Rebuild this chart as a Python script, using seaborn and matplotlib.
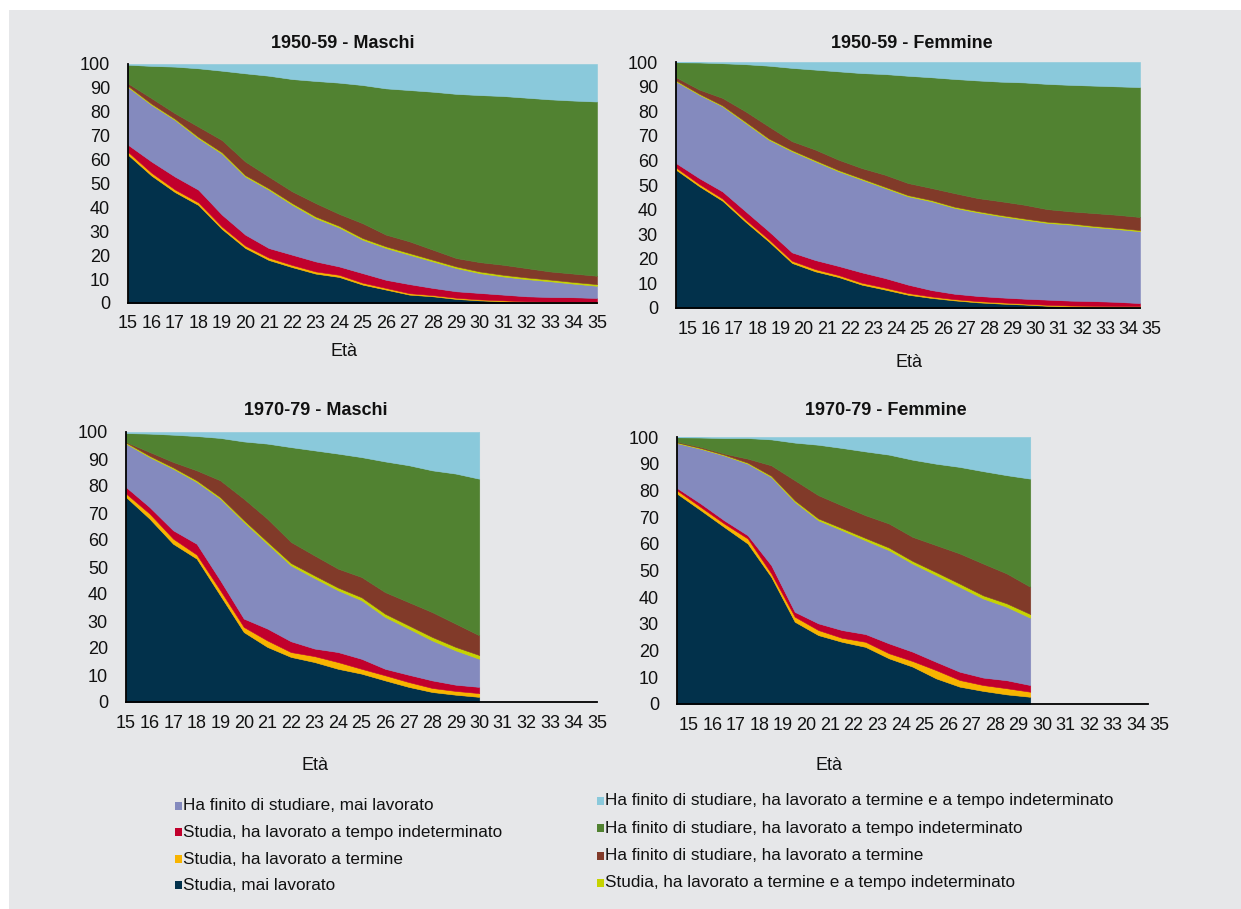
import pandas as pd
import seaborn as sns
import matplotlib.pyplot as plt
from matplotlib.patches import Rectangle
from matplotlib.transforms import ScaledTranslation

sns.set_theme(style="white")
plt.rcParams['font.family'] = ['Liberation Sans', 'DejaVu Sans']

# serie nell'ordine di impilamento (dal basso verso l'alto)
serie = [
    "Studia, mai lavorato",
    "Studia, ha lavorato a termine",
    "Studia, ha lavorato a tempo indeterminato",
    "Ha finito di studiare, mai lavorato",
    "Studia, ha lavorato a termine e a tempo indeterminato",
    "Ha finito di studiare, ha lavorato a termine",
    "Ha finito di studiare, ha lavorato a tempo indeterminato",
    "Ha finito di studiare, ha lavorato a termine e a tempo indeterminato",
]
colori = ["#02314b", "#f8b400", "#c1002c", "#848abe",
          "#c6d300", "#813a29", "#518231", "#8ac9db"]

eta_50 = list(range(15, 36))
eta_70 = list(range(15, 31))
tick_eta = list(range(15, 36))

# 1950-59 - Maschi
m50_studia_mai = [62, 53.3, 46.4, 41, 31, 23, 18, 15, 12.3, 10.9, 7.7, 5.6, 3.5, 2.8, 1.7, 1.1, 0.7, 0.4, 0.3, 0.2, 0.2]
m50_studia_term = [1.2, 1.2, 1.1, 1.1, 1.0, 1.0, 1.0, 0.9, 0.9, 0.9, 0.8, 0.7, 0.6, 0.5, 0.5, 0.4, 0.4, 0.3, 0.3, 0.3, 0.3]
m50_studia_ind = [3.0, 4.7, 5.4, 5.3, 5.0, 4.6, 4.0, 4.3, 4.2, 3.5, 4.0, 3.4, 3.8, 3.0, 2.7, 2.7, 2.4, 2.1, 1.9, 1.9, 1.6]
m50_finito_mai = [24.1, 23.7, 23.7, 21.5, 25.5, 24.3, 24.4, 20.9, 18.1, 16.3, 14.0, 13.3, 12.3, 11.1, 9.7, 8.3, 7.6, 7.2, 6.6, 5.7, 5.1]
m50_studia_entr = [0.5, 0.5, 0.5, 0.6, 0.6, 0.6, 0.6, 0.7, 0.7, 0.7, 0.7, 0.7, 0.7, 0.7, 0.7, 0.7, 0.7, 0.7, 0.7, 0.7, 0.7]
m50_finito_term = [1.1, 2.3, 2.3, 4.3, 5.1, 5.7, 4.9, 4.9, 5.6, 5.0, 6.2, 4.9, 4.9, 4.2, 3.5, 3.9, 4.2, 3.9, 3.4, 3.5, 3.5]
m50_finito_ind = [7.8, 13.5, 19.5, 24.4, 29.0, 36.9, 42.2, 47.0, 51.1, 54.9, 57.8, 61.2, 63.3, 66.1, 68.7, 69.9, 70.6, 71.3, 72.0, 72.4, 72.9]
m50_finito_entr = [0.3, 0.8, 1.1, 1.8, 2.8, 3.9, 4.9, 6.3, 7.1, 7.8, 8.8, 10.2, 10.9, 11.6, 12.5, 13.0, 13.4, 14.1, 14.8, 15.3, 15.7]

# 1950-59 - Femmine
f50_studia_mai = [56.2, 49.5, 43.6, 35, 27, 18.3, 14.9, 12.6, 9.5, 7.5, 5.4, 4.1, 3.1, 2.3, 1.8, 1.4, 0.9, 0.6, 0.5, 0.4, 0.4]
f50_studia_term = [0.9, 0.9, 0.9, 0.9, 0.9, 0.9, 0.9, 0.8, 0.8, 0.8, 0.7, 0.6, 0.5, 0.5, 0.5, 0.4, 0.4, 0.4, 0.4, 0.4, 0.4]
f50_studia_ind = [1.8, 2.4, 2.9, 3.4, 3.3, 3.4, 3.7, 3.7, 4.2, 3.9, 3.4, 2.6, 2.2, 2.1, 2.0, 2.0, 2.1, 2.0, 1.9, 1.7, 1.2]
f50_finito_mai = [33.2, 33.9, 34.6, 35.9, 37.2, 41.1, 40.1, 38.5, 37.7, 36.6, 35.9, 36.1, 34.9, 34.0, 33.0, 32.1, 31.2, 30.9, 30.1, 29.6, 29.2]
f50_studia_entr = [0.4, 0.4, 0.4, 0.5, 0.5, 0.5, 0.5, 0.5, 0.5, 0.5, 0.5, 0.5, 0.5, 0.5, 0.5, 0.5, 0.5, 0.5, 0.5, 0.5, 0.5]
f50_finito_term = [1.3, 1.7, 3.0, 4.2, 4.9, 3.6, 4.3, 4.2, 4.2, 4.9, 4.9, 4.9, 5.5, 5.3, 5.6, 5.6, 5.1, 4.9, 5.2, 5.3, 5.3]
f50_finito_ind = [6.1, 11.0, 14.1, 19.2, 24.7, 29.8, 32.5, 35.9, 38.6, 40.9, 43.6, 45.0, 46.4, 47.8, 48.6, 49.7, 50.9, 51.4, 51.8, 52.2, 52.8]
f50_finito_entr = [0.1, 0.2, 0.5, 0.9, 1.5, 2.4, 3.1, 3.8, 4.5, 4.9, 5.6, 6.2, 6.9, 7.5, 8.0, 8.3, 8.9, 9.3, 9.6, 9.9, 10.2]

# 1970-79 - Maschi
m70_studia_mai = [75.9, 67.9, 58.6, 53.1, 39.5, 25.9, 20.4, 16.7, 14.8, 12.3, 10.5, 8.0, 5.6, 3.7, 2.7, 1.9]
m70_studia_term = [1.3, 1.9, 1.9, 1.5, 1.9, 1.9, 2.4, 1.8, 2.2, 2.5, 1.8, 1.9, 1.8, 1.5, 1.4, 1.4]
m70_studia_ind = [2.4, 2.4, 3.1, 4.0, 3.7, 3.1, 4.4, 4.0, 2.8, 3.7, 3.7, 2.4, 2.7, 2.8, 2.3, 2.3]
m70_finito_mai = [16.1, 18.5, 22.8, 22.9, 30.2, 35.8, 31.4, 28.1, 26.1, 22.9, 21.7, 19.2, 17.1, 14.8, 12.7, 10.4]
m70_studia_entr = [0.4, 0.5, 0.5, 0.6, 0.6, 0.7, 0.8, 0.9, 1.0, 1.0, 1.1, 1.2, 1.2, 1.3, 1.3, 1.4]
m70_finito_term = [0.2, 1.4, 2.0, 3.7, 6.2, 7.9, 8.5, 7.8, 7.4, 7.0, 7.5, 8.0, 8.6, 9.2, 8.6, 7.3]
m70_finito_ind = [3.3, 6.8, 10.1, 12.7, 15.7, 21.2, 27.8, 35.1, 38.9, 42.6, 44.4, 48.4, 50.7, 52.5, 55.6, 58.0]
m70_finito_entr = [0.4, 0.6, 1.0, 1.5, 2.2, 3.5, 4.3, 5.6, 6.8, 8.0, 9.3, 10.9, 12.3, 14.2, 15.4, 17.3]

# 1970-79 - Femmine
f70_studia_mai = [78.8, 72.6, 66.3, 60.1, 47.6, 30.8, 25.8, 23.3, 21.4, 17.1, 14.0, 9.6, 6.5, 4.9, 3.6, 2.7]
f70_studia_term = [1.2, 1.2, 1.3, 1.9, 1.3, 1.9, 1.9, 1.5, 1.9, 1.9, 2.1, 3.1, 2.5, 2.2, 2.3, 1.9]
f70_studia_ind = [0.9, 1.3, 1.2, 1.2, 3.1, 1.8, 2.5, 2.9, 2.9, 3.7, 3.5, 3.1, 3.1, 2.8, 3.0, 2.5]
f70_finito_mai = [16.8, 20.5, 24.3, 26.8, 33.0, 41.2, 38.6, 37.4, 35.1, 34.9, 33.0, 32.5, 31.8, 29.6, 27.5, 25.2]
f70_studia_entr = [0.3, 0.3, 0.3, 0.4, 0.5, 0.6, 0.7, 0.8, 0.9, 1.0, 1.0, 1.1, 1.2, 1.2, 1.3, 1.4]
f70_finito_term = [0.2, 0.4, 0.4, 1.5, 3.9, 7.5, 8.7, 8.5, 8.5, 9.0, 9.0, 10.1, 11.3, 11.9, 11.2, 10.2]
f70_finito_ind = [1.7, 3.5, 5.8, 7.7, 9.7, 14.1, 18.9, 21.5, 23.9, 25.8, 28.9, 30.5, 32.4, 34.6, 36.8, 40.5]
f70_finito_entr = [0.2, 0.2, 0.4, 0.4, 0.9, 2.1, 2.9, 4.1, 5.4, 6.6, 8.5, 10.0, 11.2, 12.8, 14.3, 15.6]


def tabella(eta, *valori):
    df = pd.DataFrame(dict(zip(serie, valori)))
    df.index = eta
    return df


pannelli = [
    # titolo, dati, [sx, alto, dx, basso] in pixel, etichette spostate, pos. titolo, pos. "Età"
    ("1950-59 - Maschi",
     tabella(eta_50, m50_studia_mai, m50_studia_term, m50_studia_ind, m50_finito_mai,
             m50_studia_entr, m50_finito_term, m50_finito_ind, m50_finito_entr),
     (128, 64, 597, 303), False, (343, 43), (344, 352)),
    ("1950-59 - Femmine",
     tabella(eta_50, f50_studia_mai, f50_studia_term, f50_studia_ind, f50_finito_mai,
             f50_studia_entr, f50_finito_term, f50_finito_ind, f50_finito_entr),
     (676, 62, 1140, 308), True, (912, 43), (909, 362)),
    ("1970-79 - Maschi",
     tabella(eta_70, m70_studia_mai, m70_studia_term, m70_studia_ind, m70_finito_mai,
             m70_studia_entr, m70_finito_term, m70_finito_ind, m70_finito_entr),
     (126, 432, 597, 702), False, (316, 410), (315, 765)),
    ("1970-79 - Femmine",
     tabella(eta_70, f70_studia_mai, f70_studia_term, f70_studia_ind, f70_finito_mai,
             f70_studia_entr, f70_finito_term, f70_finito_ind, f70_finito_entr),
     (677, 437, 1148, 704), True, (886, 410), (829, 765)),
]

W, H = 1241, 909
fig = plt.figure(figsize=(W / 100, H / 100), dpi=100, facecolor="white")
# sfondo grigio con bordino bianco in alto e a sinistra
fig.add_artist(Rectangle((9 / W, 0), 1, 1 - 10 / H, transform=fig.transFigure,
                         facecolor="#e6e7e9", edgecolor="none", zorder=-10))

for titolo, df, (x0, y0, x1, y1), sposta, pt, pe in pannelli:
    ax = fig.add_axes([x0 / W, 1 - y1 / H, (x1 - x0) / W, (y1 - y0) / H])
    ax.set_facecolor("none")
    aree = ax.stackplot(df.index, *[df[s] for s in serie], colors=colori, linewidth=0)
    for a, c in zip(aree, colori):
        a.set_edgecolor(c)
        a.set_linewidth(0.4)
    ax.set_xlim(15, 35)
    ax.set_ylim(0, 100)
    ax.set_xticks(tick_eta)
    ax.set_xticklabels([str(t) for t in tick_eta])
    ax.set_yticks(range(0, 101, 10))
    sns.despine(ax=ax)
    for lato in ("left", "bottom"):
        ax.spines[lato].set_color("black")
        ax.spines[lato].set_linewidth(1.3)
    ax.tick_params(axis="both", direction="out", length=5, width=1,
                   color="#8c8c8c", labelsize=13, labelcolor="#111111")
    ax.tick_params(axis="y", pad=8)
    ax.tick_params(axis="x", pad=4)
    ax.grid(False)
    if sposta:
        mezzo = (x1 - x0) / 20 / 2 / 100
        off = ScaledTranslation(mezzo, 0, fig.dpi_scale_trans)
        for lab in ax.get_xticklabels():
            lab.set_transform(lab.get_transform() + off)
    fig.text(pt[0] / W, 1 - pt[1] / H, titolo, ha="center", va="center",
             fontsize=13, fontweight="bold", color="#111111")
    fig.text(pe[0] / W, 1 - pe[1] / H, "Età", ha="center", va="center",
             fontsize=13, color="#111111")

# legenda
voci_sx = [(3, 806), (2, 832), (1, 859), (0, 885)]
voci_dx = [(7, 801), (6, 828), (5, 856), (4, 883)]
for voci, xs in ((voci_sx, 175), (voci_dx, 597)):
    for i, y in voci:
        fig.add_artist(Rectangle((xs / W, 1 - (y + 4) / H), 7 / W, 8 / H,
                                 transform=fig.transFigure, facecolor=colori[i],
                                 edgecolor="none"))
        fig.text((xs + 8) / W, 1 - y / H, serie[i], ha="left", va="center",
                 fontsize=12.3, color="#111111")

fig.savefig("out.png", dpi=100)
